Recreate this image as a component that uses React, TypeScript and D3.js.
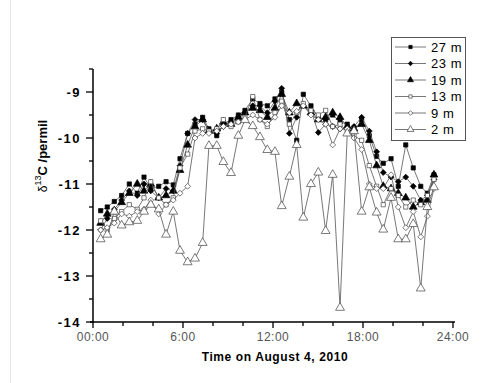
import React from 'react'
import * as d3 from 'd3'

// sampling times (hours on August 4, 2010)
const hours = [0.51, 0.95, 1.42, 1.91, 2.42, 2.95, 3.40, 3.85, 4.38, 4.87, 5.35, 5.80, 6.31, 6.80, 7.31, 7.73,
  8.25, 8.69, 9.20, 9.69, 10.13, 10.65, 11.13, 11.62, 12.13, 12.58, 13.09, 13.58, 14.02, 14.53, 15.02, 15.51,
  15.98, 16.47, 16.95, 17.40, 17.91, 18.42, 18.91, 19.35, 19.87, 20.35, 20.85, 21.35, 21.85, 22.29, 22.73]

const d27 = [-11.58, -11.5, -11.38, -11.25, -11.0, -11.2, -10.85, -11.1, -11.05, -10.95, -11.02, -10.45, -9.9, -9.7, -9.55, -9.8,
  -9.95, -9.7, -9.6, -9.5, -9.4, -9.15, -9.25, -9.3, -9.15, -9.0, -9.6, -10.05, -9.05, -9.3, -9.55, -9.6,
  -9.5, -9.65, -9.7, -9.85, -9.6, -9.95, -10.4, -10.55, -10.45, -11.05, -10.15, -10.65, -11.05, -11.2, -10.8]
const d23 = [-12.0, -11.75, -11.55, -11.35, -11.15, -11.25, -11.0, -11.15, -11.3, -11.1, -11.15, -10.6, -9.9, -9.6, -9.6, -9.85,
  -9.9, -9.75, -9.65, -9.6, -9.45, -9.3, -9.3, -9.45, -9.2, -8.92, -9.9, -9.55, -9.3, -9.4, -9.88, -9.7,
  -9.75, -9.8, -9.8, -9.75, -9.55, -9.85, -10.3, -10.75, -10.85, -10.95, -10.85, -11.05, -11.35, -11.25, -10.9]
const d19 = [-11.85, -11.65, -11.6, -11.4, -11.2, -11.0, -11.15, -11.0, -11.3, -11.25, -11.15, -10.7, -10.15, -9.75, -9.6, -9.85,
  -9.8, -9.65, -9.7, -9.55, -9.45, -9.35, -9.4, -9.55, -9.35, -9.05, -9.45, -9.25, -9.3, -9.45, -9.6, -9.55,
  -9.45, -9.55, -9.75, -9.8, -9.7, -10.05, -10.6, -11.05, -11.1, -11.2, -11.3, -11.5, -11.4, -11.35, -10.8]
const d13 = [-11.8, -12.0, -11.75, -11.6, -11.45, -11.55, -11.3, -10.95, -11.3, -11.45, -11.3, -10.65, -10.35, -9.85, -9.8, -9.85,
  -9.8, -9.6, -9.75, -9.65, -9.55, -9.1, -9.6, -9.75, -9.45, -9.2, -9.7, -9.45, -9.25, -9.4, -9.5, -9.4,
  -9.75, -9.7, -9.85, -9.95, -10.05, -10.6, -11.05, -11.45, -11.1, -11.25, -11.5, -11.35, -11.45, -11.25, -10.9]
const d9 = [-12.0, -11.95, -11.85, -11.65, -11.7, -11.6, -11.55, -11.35, -11.65, -11.45, -11.35, -11.2, -11.05, -10.0, -9.9, -9.9,
  -9.85, -9.75, -9.7, -9.65, -9.6, -9.5, -9.6, -9.7, -9.55, -9.3, -9.45, -9.42, -9.3, -9.5, -9.6, -9.7,
  -10.15, -9.8, -9.8, -10.0, -10.25, -11.0, -11.1, -11.1, -10.8, -11.5, -11.95, -11.6, -12.15, -11.7, -11.1]
const d2 = [-12.2, -12.1, -11.6, -11.9, -11.83, -11.8, -11.6, -11.45, -11.55, -12.1, -11.6, -12.45, -12.7, -12.62, -12.28, -10.17,
  -10.17, -10.52, -10.76, -9.95, -9.61, -9.74, -9.98, -10.26, -10.3, -11.48, -10.84, -10.15, -11.73, -11.0, -10.75, -12.02,
  -10.8, -13.69, -9.9, -9.85, -11.6, -11.07, -11.62, -11.99, -11.3, -12.2, -12.2, -11.87, -13.27, -11.5, -11.07]

const seriesNames = ['27 m', '23 m', '19 m', '13 m', '9 m', '2 m']
const seriesValues = [d27, d23, d19, d13, d9, d2]

const yTicks = [-14, -13, -12, -11, -10, -9]
const xTickLabels = ['00:00', '6:00', '12:00', '18:00', '24:00']

const W = 493, H = 383
const font = 'Arial, "Liberation Sans", sans-serif'

const symbolStyle = [
  {type: d3.symbolSquare, size: 18, fill: '#000'},
  {type: d3.symbolDiamond2, size: 22, fill: '#000'},
  {type: d3.symbolTriangle, size: 26, fill: '#000'},
  {type: d3.symbolSquare, size: 18, fill: '#fff'},
  {type: d3.symbolDiamond2, size: 22, fill: '#fff'},
  {type: d3.symbolTriangle, size: 34, fill: '#fff'},
]

export default function App() {
  const x = d3.scaleLinear().domain([0, 24]).range([93, 453])
  const y = d3.scaleLinear().domain([-14, -8.5]).range([322, 69])

  const line = d3.line<number>()
    .x((d, i) => x(hours[i]))
    .y(d => y(d))

  const minorY = d3.range(-14, -8.4, 0.5)
  const xt = d3.range(0, 24.1, 2)

  return (
    <svg width={W} height={H} style={{position: 'absolute', left: 0, top: 0, background: '#fff'}}
      fontFamily={font}>
      <rect width={W} height={H} fill="#fff" />
      <line x1={10.5} x2={10.5} y1={0} y2={H} stroke="#e6e6e6" />

      {/* series */}
      {seriesValues.map((vals, s) => (
        <g key={seriesNames[s]}>
          <path d={line(vals) || ''} fill="none" stroke="#555" strokeWidth={0.8} />
          {vals.map((v, i) => (
            <path key={i}
              d={d3.symbol(symbolStyle[s].type, symbolStyle[s].size)() || ''}
              transform={`translate(${x(hours[i])},${y(v)})`}
              fill={symbolStyle[s].fill} stroke={symbolStyle[s].fill === '#000' ? '#000' : '#444'}
              strokeWidth={0.7} />
          ))}
        </g>
      ))}

      {/* y axis */}
      <line x1={93} x2={93} y1={y(-8.5)} y2={y(-14) + 1} stroke="#000" strokeWidth={1.5} />
      {minorY.map(v => (
        <line key={v} x1={Number.isInteger(v) ? 86 : 89} x2={93} y1={y(v)} y2={y(v)} stroke="#000" strokeWidth={1.3} />
      ))}
      {yTicks.map(v => (
        <text key={v} x={81} y={y(v)} dy="0.36em" textAnchor="end" fontSize={13} fontWeight="bold"
          letterSpacing="1.5">{'-' + Math.abs(v)}</text>
      ))}

      {/* x axis */}
      <line x1={90} x2={x(24) + 2} y1={322} y2={322} stroke="#000" strokeWidth={1.5} />
      {xt.map(h => (
        <line key={h} x1={x(h)} x2={x(h)} y1={322} y2={h % 6 === 0 ? 328 : 326} stroke="#000" strokeWidth={1.3} />
      ))}
      {xTickLabels.map((t, i) => (
        <text key={t} x={x(i * 6)} y={341} textAnchor="middle" fontSize={12} fill="#555" letterSpacing="0.5">{t}</text>
      ))}
      <text x={275} y={361} textAnchor="middle" fontSize={12} fontWeight="bold" letterSpacing="0.6">Time on August 4, 2010</text>

      {/* y title */}
      <text transform="translate(47,156) rotate(-90)" textAnchor="middle" fontSize={13} fontWeight="bold">
        <tspan fontWeight="normal" fontSize={12}>δ</tspan>
        <tspan fontSize={9} dy={-6} fontWeight="normal">13</tspan>
        <tspan dy={6}>C /permil</tspan>
      </text>

      {/* legend */}
      <rect x={391.5} y={37.5} width={74} height={103} fill="#fff" stroke="#555" strokeWidth={1} />
      {seriesNames.map((n, s) => {
        const ly = 47 + s * 16.5
        return (
          <g key={n}>
            <line x1={395} x2={426} y1={ly} y2={ly} stroke="#555" strokeWidth={0.8} />
            <path d={d3.symbol(symbolStyle[s].type, symbolStyle[s].size * 0.6)() || ''}
              transform={`translate(410.5,${ly})`} fill={symbolStyle[s].fill}
              stroke={symbolStyle[s].fill === '#000' ? '#000' : '#444'} strokeWidth={0.7} />
            <text x={431} y={ly} dy="0.36em" fontSize={13} letterSpacing="0.6">{n}</text>
          </g>
        )
      })}
    </svg>
  )
}
